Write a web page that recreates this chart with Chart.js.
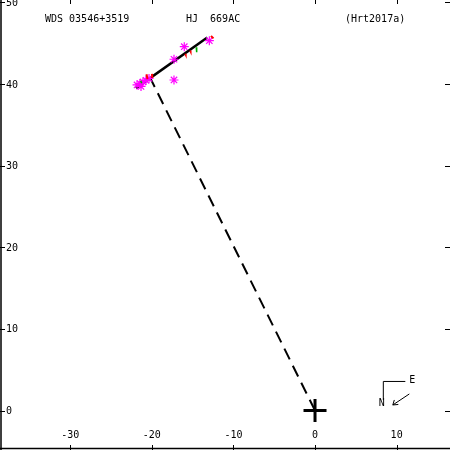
<!DOCTYPE html>
<html>
<head>
<meta charset="utf-8">
<script src="https://cdn.jsdelivr.net/npm/chart.js@4/dist/chart.umd.min.js"></script>
<style>
html,body{margin:0;padding:0;background:#fff;}
#wrap{width:450px;height:450px;}
</style>
</head>
<body>
<div id="wrap"><canvas id="c" width="450" height="450"></canvas></div>
<script>
// ---- data ----
const xTicks = [-30, -20, -10, 0, 10];
const yTicks = [0, 10, 20, 30, 40, 50];
const titleLeft = "WDS 03546+3519";
const titleMid = "HJ  669AC";
const titleRight = "(Hrt2017a)";

const orbitX = [-21.94, -13.2];
const orbitY = [39.5, 45.7];

const nodeX = [0, -20.22];
const nodeY = [0, 40.8];

const obsX = [-21.81, -21.45, -21.08, -20.71, -20.34, -21.32, -17.28, -17.28, -16.02, -12.95];
const obsY = [39.89, 40.07, 40.26, 40.44, 40.69, 39.71, 43.04, 40.50, 44.58, 45.32];

const redSegX = [[-20.65, -20.53], [-19.98, -19.92], [-12.75, -12.44], [-15.9, -15.85], [-15.3, -15.25]];
const redSegY = [[41.2, 40.6], [41.24, 40.75], [45.9, 45.6], [43.7, 43.6], [44.1, 44.0]];

const greenSegX = [[-14.55, -14.5], [-21.36, -21.24]];
const greenSegY = [[44.5, 43.9], [40.4, 40.1]];

const centerX = [0];
const centerY = [0];

const compassE = "E";
const compassN = "N";

// ---- build ----
const pts = (xs, ys) => xs.map((x, i) => ({x: x, y: ys[i]}));
const FONT = '10px "DejaVu Sans Mono", "Liberation Mono", monospace';

const datasets = [];
redSegX.forEach((xs, i) => datasets.push({
  data: pts(xs, redSegY[i]), showLine: true, borderColor: '#ff0000', borderWidth: 2, pointRadius: 0
}));
greenSegX.forEach((xs, i) => datasets.push({
  data: pts(xs, greenSegY[i]), showLine: true, borderColor: '#00b000', borderWidth: 1.5, pointRadius: 0
}));
datasets.push({
  data: pts(obsX, obsY), showLine: false, pointStyle: 'star', pointRadius: 4.5,
  borderColor: '#ff00ff', backgroundColor: '#ff00ff', borderWidth: 1.2
});
datasets.push({
  data: pts(orbitX, orbitY), showLine: true, borderColor: '#000', borderWidth: 2.5, pointRadius: 0
});
datasets.push({
  data: pts(nodeX, nodeY), showLine: true, borderColor: '#000', borderWidth: 2,
  borderDash: [12, 7], pointRadius: 0
});
datasets.push({
  data: pts(centerX, centerY), showLine: false, pointStyle: 'cross', pointRadius: 11.5,
  borderColor: '#000', borderWidth: 3
});

const frame = {
  id: 'frame',
  afterDraw(chart) {
    const ctx = chart.ctx;
    const xs = chart.scales.x, ys = chart.scales.y;
    const W = chart.width, H = chart.height;
    ctx.save();
    ctx.strokeStyle = '#000';
    ctx.fillStyle = '#000';
    ctx.lineWidth = 1.5;
    ctx.beginPath();
    ctx.moveTo(1, 0); ctx.lineTo(1, H);
    ctx.moveTo(0, H - 1.5); ctx.lineTo(W, H - 1.5);
    ctx.stroke();
    ctx.lineWidth = 1;
    ctx.beginPath();
    xTicks.forEach(v => {
      const p = Math.round(xs.getPixelForValue(v)) + 0.5;
      ctx.moveTo(p, H); ctx.lineTo(p, H - 5);
      ctx.moveTo(p, 0); ctx.lineTo(p, 4);
    });
    yTicks.forEach(v => {
      const p = Math.round(ys.getPixelForValue(v)) + 0.5;
      ctx.moveTo(0, p); ctx.lineTo(5, p);
      ctx.moveTo(W, p); ctx.lineTo(W - 5, p);
    });
    ctx.stroke();
    ctx.font = FONT;
    ctx.textBaseline = 'middle';
    ctx.textAlign = 'left';
    yTicks.forEach(v => {
      ctx.fillText(String(v), 6, ys.getPixelForValue(v) + 1);
    });
    ctx.textAlign = 'center';
    xTicks.forEach(v => {
      ctx.fillText(String(v), xs.getPixelForValue(v), 435);
    });
    ctx.textAlign = 'left';
    ctx.textBaseline = 'alphabetic';
    ctx.fillText(titleLeft, 45, 22);
    ctx.fillText(titleMid, 186, 22);
    ctx.fillText(titleRight, 345, 22);
    // compass
    const cx = xs.getPixelForValue(8.37), cy = ys.getPixelForValue(3.62);
    ctx.beginPath();
    ctx.moveTo(cx + 22, cy + 0.5); ctx.lineTo(cx, cy + 0.5); ctx.lineTo(cx, cy + 19);
    ctx.moveTo(cx + 26, cy + 13); ctx.lineTo(cx + 9.5, cy + 24);
    ctx.moveTo(cx + 9.5, cy + 24); ctx.lineTo(cx + 11, cy + 19);
    ctx.moveTo(cx + 9.5, cy + 24); ctx.lineTo(cx + 15, cy + 23.5);
    ctx.stroke();
    ctx.textBaseline = 'middle';
    ctx.textAlign = 'center';
    ctx.fillText(compassE, cx + 29, cy - 1);
    ctx.fillText(compassN, cx - 1.5, cy + 22);
    ctx.restore();
  }
};

new Chart(document.getElementById('c'), {
  type: 'scatter',
  data: {datasets: datasets},
  options: {
    responsive: false,
    animation: false,
    layout: {padding: 0, autoPadding: false},
    plugins: {legend: {display: false}, tooltip: {enabled: false}},
    scales: {
      x: {type: 'linear', min: -38.6, max: 16.54, display: false},
      y: {type: 'linear', min: -4.84, max: 50.3, display: false}
    }
  },
  plugins: [frame]
});
</script>
</body>
</html>
